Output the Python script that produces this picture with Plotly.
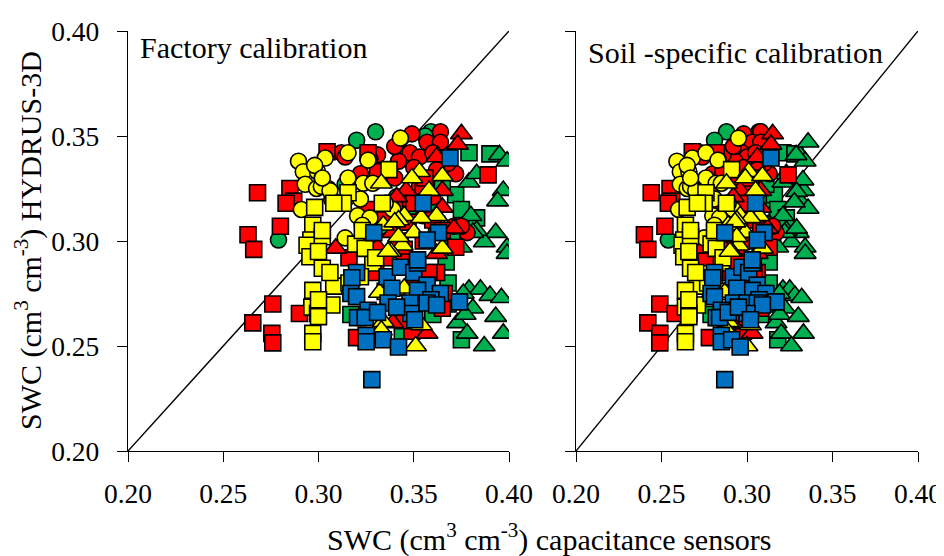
import plotly.graph_objects as go

FONT = "Liberation Serif"
ticks = [0.20, 0.25, 0.30, 0.35, 0.40]
tick_labels = ["0.20", "0.25", "0.30", "0.35", "0.40"]
line_xy = [0.20, 0.40]

# green circles
gc_y  = [.352,.348,.352,.3005,.350,.327,.329,.321,.322,.307,.312,.318,.296]
gc_xf = [.330,.320,.359,.279,.356,.314,.318,.341,.352,.333,.348,.361,.340]
gc_xs = [.288,.281,.307,.254,.305,.277,.280,.295,.303,.290,.300,.309,.295]
# green squares
gs_y  = [.342,.3415,.322,.315,.311,.327,.253,.290,.265,.270,.265,.257,.300,.280,.308]
gs_xf = [.379,.390,.372,.375,.383,.365,.375,.367,.360,.368,.317,.344,.370,.368,.362]
gs_xs = [.321,.328,.316,.318,.323,.311,.318,.313,.308,.313,.279,.297,.315,.313,.309]
# green triangles
gt_yf = [.341,.338,.328,.324,.319,.304,.2995,.297,.294,.297,.305,.304,.277,.277,.274,.273,.275,.268,.261,.265,.264,.256,.256,.250,.312,.332]
gt_xf = [.395,.399,.379,.397,.394,.393,.387,.399,.399,.375,.383,.381,.379,.385,.390,.396,.376,.381,.373,.377,.393,.378,.397,.387,.380,.383]
gt_ys = [.341,.338,.328,.324,.319,.304,.2995,.297,.294,.297,.305,.304,.277,.277,.274,.273,.275,.268,.261,.265,.264,.256,.256,.250,.312,.332,.347,.341,.329,.3235,.3155,.3185,.306]
gt_xs = [.331,.334,.321,.333,.331,.330,.326,.334,.334,.318,.323,.322,.321,.325,.328,.332,.319,.322,.317,.319,.330,.320,.333,.326,.321,.323,.3357,.3287,.3327,.329,.3357,.3277,.329]
# red circles
rc_y  = [.352,.351,.347,.347,.342,.340,.342,.338,.332,.337,.304,.307,.307,.342,.340,.341,.339,.332,.326,.334,.321,.330,.335,.300,.345,.312,.320]
rc_xf = [.364,.349,.357,.364,.348,.353,.360,.342,.372,.368,.378,.371,.375,.312,.314,.331,.327,.322,.353,.362,.360,.340,.350,.343,.340,.355,.345]
rc_xs = [.308,.298,.303,.308,.297,.300,.305,.293,.313,.310,.317,.312,.315,.273,.274,.286,.283,.280,.300,.306,.305,.292,.298,.294,.292,.302,.295]
# red squares
rs_y  = [.323,.325,.319,.318,.307,.303,.296,.270,.261,.256,.2515,.2655,.3425,.342,.3315,.292,.333,.326,.309,.297,.285,.275,.285,.254,.257,.300,.301,.315,.318,.330,.310,.296,.300,.310,.318,.292,.285,.305,.290,.262,.268]
rs_xf = [.268,.285,.287,.283,.280,.263,.266,.276,.2655,.2755,.276,.290,.3045,.326,.389,.316,.331,.355,.347,.372,.362,.366,.358,.320,.349,.342,.325,.325,.340,.356,.335,.345,.355,.360,.350,.335,.330,.365,.345,.345,.365]
rs_xs = [.244,.255,.256,.254,.252,.240,.242,.249,.242,.249,.249,.258,.268,.282,.324,.276,.286,.302,.296,.313,.306,.309,.304,.278,.298,.293,.282,.282,.292,.302,.288,.295,.302,.305,.298,.288,.285,.308,.295,.295,.308]
# red triangles
rt_y  = [.351,.346,.340,.324,.324,.306,.321,.2965,.316,.256,.261,.304,.294,.297,.280]
rt_xf = [.375,.373,.362,.365,.346,.371,.341,.309,.365,.357,.339,.339,.362,.331,.350]
rt_xs = [.315,.314,.306,.308,.296,.312,.292,.271,.308,.303,.291,.291,.306,.286,.298]
# yellow circles
yc_y  = [.338,.333,.327,.333,.325,.315,.3395,.342,.3385,.330,.3275,.3275,.325,.3195,.320,.312,.311,.349,.326,.3075,.3015,.315,.324,.318,.336,.330]
yc_xf = [.2895,.292,.293,.2995,.299,.291,.3035,.3155,.326,.3155,.3235,.3285,.305,.307,.322,.3205,.327,.343,.3015,.323,.314,.339,.306,.335,.298,.302]
yc_xs = [.259,.261,.261,.266,.265,.260,.268,.276,.283,.276,.282,.285,.269,.271,.281,.280,.284,.295,.267,.281,.275,.292,.270,.289,.265,.267]
# yellow squares
ys_y  = [.316,.3075,.3005,.298,.2925,.302,.287,.2785,.2765,.2695,.2685,.2655,.264,.256,.252,.2895,.323,.318,.318,.334,.2985,.2965,.283,.276,.280,.318,.305,.295,.285,.272,.305,.292]
ys_xf = [.298,.297,.296,.294,.2955,.302,.302,.308,.297,.307,.2965,.2995,.300,.297,.297,.3285,.3155,.3335,.313,.337,.3195,.3245,.322,.335,.316,.308,.302,.300,.306,.300,.323,.330]
ys_xs = [.265,.264,.263,.262,.263,.267,.267,.271,.264,.271,.264,.266,.266,.264,.264,.285,.276,.288,.275,.291,.279,.282,.281,.289,.277,.271,.267,.266,.270,.266,.281,.286]
# yellow triangles
yt_y  = [.3275,.333,.330,.331,.324,.312,.312,.311,.310,.304,.3075,.2965,.298,.295,.302,.250,.2615,.2575,.260,.2765,.2755,.2775,.295,.309]
yt_xf = [.333,.353,.349,.365,.358,.345,.362,.354,.342,.350,.334,.365,.344,.338,.342,.351,.334,.333,.354,.340,.332,.345,.3365,.340]
yt_xs = [.288,.301,.299,.309,.305,.296,.307,.302,.294,.299,.289,.309,.295,.291,.294,.300,.289,.288,.302,.293,.287,.296,.290,.293]
# blue squares
bs_y  = [.234,.285,.2825,.283,.2875,.285,.2895,.279,.2765,.2775,.275,.2735,.2705,.2705,.275,.272,.271,.2705,.2695,.267,.2635,.2635,.266,.2655,.2685,.2625,.255,.252,.253,.2495,.3395,.318,.304,.304,.3005,.291]
bs_xf = [.328,.320,.3175,.336,.343,.350,.352,.357,.352,.3385,.317,.320,.3365,.348,.364,.359,.374,.357,.362,.326,.3205,.3245,.331,.3485,.341,.3505,.325,.325,.334,.342,.369,.355,.363,.329,.357,.352]
bs_xs = [.287,.281,.280,.292,.297,.301,.303,.306,.303,.294,.279,.281,.292,.300,.311,.307,.317,.306,.309,.285,.282,.284,.289,.300,.295,.302,.285,.285,.291,.296,.314,.305,.310,.287,.306,.303]

GREEN, RED, YELLOW, BLUE = "#00B050", "#FF0000", "#FFFF00", "#0070C0"
series = [
    ("circle", 16, GREEN, gc_xf, gc_y, gc_xs, gc_y),
    ("square", 16, GREEN, gs_xf, gs_y, gs_xs, gs_y),
    ("triangle-up", 19, GREEN, gt_xf, gt_yf, gt_xs, gt_ys),
    ("circle", 16, RED, rc_xf, rc_y, rc_xs, rc_y),
    ("square", 16, RED, rs_xf, rs_y, rs_xs, rs_y),
    ("triangle-up", 19, RED, rt_xf, rt_y, rt_xs, rt_y),
    ("circle", 16, YELLOW, yc_xf, yc_y, yc_xs, yc_y),
    ("square", 16, YELLOW, ys_xf, ys_y, ys_xs, ys_y),
    ("triangle-up", 19, YELLOW, yt_xf, yt_y, yt_xs, yt_y),
    ("square", 16, BLUE, bs_xf, bs_y, bs_xs, bs_y),
]

fig = go.Figure()
for xa, ya in (("x", "y"), ("x2", "y2")):
    fig.add_trace(go.Scatter(x=line_xy, y=line_xy, mode="lines", xaxis=xa, yaxis=ya,
                             line=dict(color="black", width=1.4), showlegend=False, hoverinfo="skip"))
for sym, size, col, xf, yf, xs, ys in series:
    marker = dict(symbol=sym, size=size, color=col, line=dict(color="black", width=1.6))
    fig.add_trace(go.Scatter(x=xf, y=yf, mode="markers", marker=marker, showlegend=False, xaxis="x", yaxis="y"))
    fig.add_trace(go.Scatter(x=xs, y=ys, mode="markers", marker=marker, showlegend=False, xaxis="x2", yaxis="y2"))

# The page adds an 8 px margin, so positions below are screen pixels less PAD.
PAD = 8
W, H = 944 - PAD, 556 - PAD
axis = dict(range=[0.20, 0.40], tickvals=ticks, ticktext=tick_labels, ticks="outside", ticklen=10,
            tickwidth=1.3, tickcolor="black", showline=True, linewidth=1.3, linecolor="black",
            showgrid=False, zeroline=False, tickfont=dict(family=FONT, size=27.5, color="black"))
ydom = [1 - (451 - PAD) / H, 1 - (31 - PAD) / H]
fig.update_layout(
    width=W, height=H, margin=dict(l=0, r=0, t=0, b=0, autoexpand=False), paper_bgcolor="white", plot_bgcolor="rgba(0,0,0,0)",
    xaxis=dict(axis, domain=[(128 - PAD) / W, (509 - PAD) / W], anchor="y", ticklabelstandoff=8),
    yaxis=dict(axis, domain=ydom, anchor="x", ticklabelstandoff=12),
    xaxis2=dict(axis, domain=[(576 - PAD) / W, (918 - PAD) / W], anchor="y2", ticklabelstandoff=8),
    yaxis2=dict(axis, domain=ydom, anchor="x2", showticklabels=False),
)
def note(text, x, y, size=30, **kw):
    fig.add_annotation(text=text, x=(x - PAD) / W, y=1 - (y - PAD) / H, xref="paper", yref="paper", showarrow=False,
                       font=dict(family=FONT, size=size, color="black"), **kw)
note("Factory calibration", 138, 47, xanchor="left", yanchor="middle")
note("Soil -specific calibration", 586, 53, xanchor="left", yanchor="middle")
note("SWC (cm<sup>3</sup> cm<sup>-3</sup>) capacitance sensors", 549, 537, size=30, xanchor="center", yanchor="middle")
note("SWC (cm<sup>3</sup> cm<sup>-3</sup>) HYDRUS-3D", 28, 241, xanchor="center", yanchor="middle", textangle=-90)

fig.write_html("out.html")
